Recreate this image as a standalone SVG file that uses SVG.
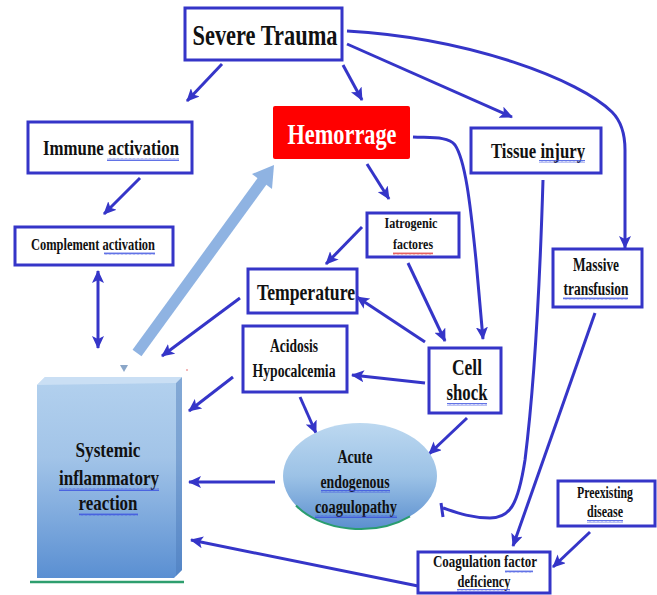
<svg xmlns="http://www.w3.org/2000/svg" width="657" height="595" viewBox="0 0 657 595">
<defs>
<style>
.box{fill:#fff;stroke:#3535c8;stroke-width:3}
.t{font-family:"Liberation Serif","Times New Roman",serif;font-weight:bold;fill:#111;text-anchor:middle}
.c{fill:none;stroke:#3535c8;stroke-width:3}
.a{marker-end:url(#ah)}
.sqb{fill:url(#wb)}
.sqr{fill:url(#wr)}
</style>
<marker id="ah" markerUnits="userSpaceOnUse" markerWidth="14" markerHeight="12" refX="12" refY="6" orient="auto-start-reverse">
<path d="M0,0 L13,6 L0,12 L3,6 z" fill="#3535c8"/>
</marker>
<pattern id="wb" width="4" height="3" patternUnits="userSpaceOnUse">
<path d="M0,2.5 L1,0.5 L2,2.5 L3,0.5 L4,2.5" fill="none" stroke="#3a4fe0" stroke-width="0.8"/>
</pattern>
<pattern id="wr" width="4" height="3" patternUnits="userSpaceOnUse">
<path d="M0,2.5 L1,0.5 L2,2.5 L3,0.5 L4,2.5" fill="none" stroke="#e03a3a" stroke-width="0.8"/>
</pattern>
<linearGradient id="gs" x1="0" y1="0" x2="0" y2="1">
<stop offset="0" stop-color="#b3d1ee"/>
<stop offset="0.4" stop-color="#a2c4e8"/>
<stop offset="1" stop-color="#5a8fd2"/>
</linearGradient>
<linearGradient id="ge" x1="0" y1="0" x2="0" y2="1">
<stop offset="0" stop-color="#bcd8f0"/>
<stop offset="0.5" stop-color="#9cc2e6"/>
<stop offset="1" stop-color="#5b8fcf"/>
</linearGradient>
</defs>
<rect width="657" height="595" fill="#fff"/>

<g id="connectors">
<line class="c a" x1="222" y1="64" x2="187" y2="101"/>
<line class="c a" x1="343" y1="65" x2="362" y2="100"/>
<line class="c a" x1="347" y1="44" x2="512" y2="117"/>
<path class="c a" d="M347,31 C470,38 580,80 612,112 C622,122 625,135 625,150 L625,248"/>
<path class="c a" d="M413,137 C430,138 448,136 455,145 C465,160 470,200 476,260 L483,339"/>
<path class="c" d="M543,180 C540,280 535,380 525,460 C518,505 510,518 490,518 C470,518 455,512 443,508"/>
<line class="c" x1="441" y1="503" x2="443" y2="517" stroke-width="2.5"/>
<line class="c a" x1="140" y1="178" x2="104" y2="214"/>
<line class="c a" x1="98" y1="271" x2="98" y2="348" style="marker-start:url(#ah)"/>
<line class="c a" x1="367" y1="164" x2="389" y2="199"/>
<line class="c a" x1="362" y1="227" x2="326" y2="264"/>
<line class="c a" x1="408" y1="263" x2="445" y2="341"/>
<line class="c a" x1="425" y1="342" x2="357" y2="297"/>
<line class="c a" x1="425" y1="383" x2="352" y2="375"/>
<line class="c a" x1="467" y1="418" x2="429" y2="454"/>
<line class="c a" x1="240" y1="298" x2="162" y2="356"/>
<line class="c a" x1="233" y1="377" x2="189" y2="411"/>
<line class="c a" x1="300" y1="397" x2="316" y2="433"/>
<line class="c a" x1="275" y1="482" x2="189" y2="482"/>
<line class="c a" x1="595" y1="313" x2="513" y2="546"/>
<line class="c a" x1="590" y1="532" x2="553" y2="567"/>
<line class="c a" x1="418" y1="586" x2="191" y2="540"/>
<g id="big-arrow">
<line x1="137" y1="353" x2="263" y2="180" stroke="#8fb3e2" stroke-width="11"/>
<polygon points="274,165 272,189 252,174" fill="#8fb3e2"/>
</g>
<polygon points="120,365 128,365 124,372" fill="#8aa6c8"/>
<circle cx="187" cy="370" r="1" fill="#f0a0a0"/>
</g>

<g id="severe-trauma">
<rect class="box" x="185" y="8" width="157" height="52"/>
<text class="t" x="265" y="45" font-size="30" textLength="145" lengthAdjust="spacingAndGlyphs">Severe Trauma</text>
</g>

<g id="immune-activation">
<rect class="box" x="28" y="122" width="164" height="51"/>
<text class="t" x="111" y="155" font-size="21" textLength="136" lengthAdjust="spacingAndGlyphs">Immune activation</text>
<rect class="sqb" x="107" y="158" width="72" height="3"/>
</g>

<g id="hemorrage">
<rect x="273" y="106" width="137" height="53" fill="#ff0000" rx="2"/>
<text class="t" x="342" y="144" font-size="29" style="fill:#fff" textLength="109" lengthAdjust="spacingAndGlyphs">Hemorrage</text>
</g>

<g id="tissue-injury">
<rect class="box" x="471" y="128" width="130" height="45"/>
<text class="t" x="538" y="158" font-size="21" textLength="94" lengthAdjust="spacingAndGlyphs">Tissue injury</text>
<rect class="sqb" x="539" y="160" width="46" height="3"/>
</g>

<g id="complement-activation">
<rect class="box" x="15" y="227" width="158" height="38"/>
<text class="t" x="93" y="250" font-size="17" textLength="124" lengthAdjust="spacingAndGlyphs">Complement  activation</text>
<rect class="sqb" x="104" y="252" width="51" height="3"/>
</g>

<g id="iatrogenic-factores">
<rect class="box" x="367" y="213" width="92" height="44"/>
<text class="t" x="411" y="228" font-size="15" textLength="53" lengthAdjust="spacingAndGlyphs">Iatrogenic</text>
<text class="t" x="413" y="249" font-size="15" textLength="40" lengthAdjust="spacingAndGlyphs">factores</text>
<rect class="sqr" x="393" y="252" width="40" height="3"/>
</g>

<g id="temperature">
<rect class="box" x="248" y="269" width="109" height="44"/>
<text class="t" x="306" y="300" font-size="24" textLength="98" lengthAdjust="spacingAndGlyphs">Temperature</text>
</g>

<g id="acidosis-hypocalcemia">
<rect class="box" x="243" y="326" width="104" height="66"/>
<text class="t" x="294" y="352" font-size="18" textLength="48" lengthAdjust="spacingAndGlyphs">Acidosis</text>
<text class="t" x="294" y="377" font-size="18" textLength="83" lengthAdjust="spacingAndGlyphs">Hypocalcemia</text>
</g>

<g id="cell-shock">
<rect class="box" x="429" y="348" width="72" height="65"/>
<text class="t" x="467" y="375" font-size="24" textLength="30" lengthAdjust="spacingAndGlyphs">Cell</text>
<text class="t" x="467" y="400" font-size="24" textLength="41" lengthAdjust="spacingAndGlyphs">shock</text>
<rect class="sqb" x="447" y="403" width="40" height="3"/>
</g>

<g id="massive-transfusion">
<rect class="box" x="553" y="249" width="89" height="58"/>
<text class="t" x="596" y="271" font-size="18" textLength="46" lengthAdjust="spacingAndGlyphs">Massive</text>
<text class="t" x="596" y="295" font-size="18" textLength="65" lengthAdjust="spacingAndGlyphs">transfusion</text>
<rect class="sqb" x="563" y="297" width="65" height="3"/>
</g>

<g id="systemic-inflammatory-reaction">
<path d="M37,385 L45,377 L182,377 L182,570 L174,578 L37,578 Z" fill="url(#gs)"/>
<path d="M176,383 L182,377 L182,570 L176,576 Z" fill="#4a78b8" opacity="0.45"/>
<path d="M37,385 L45,377 L182,377 L176,383 Z" fill="#d4e6f7" opacity="0.7"/>
<line x1="30" y1="582" x2="184" y2="582" stroke="#2e9e6e" stroke-width="2.5"/>
<text class="t" x="108" y="457" font-size="22" textLength="65" lengthAdjust="spacingAndGlyphs">Systemic</text>
<text class="t" x="109" y="485" font-size="22" textLength="100" lengthAdjust="spacingAndGlyphs">inflammatory</text>
<text class="t" x="108" y="510" font-size="22" textLength="59" lengthAdjust="spacingAndGlyphs">reaction</text>
<rect class="sqb" x="59" y="488" width="100" height="3"/>
<rect class="sqb" x="79" y="513" width="59" height="3"/>
</g>

<g id="acute-endogenous-coagulopathy">
<ellipse cx="360" cy="476" rx="77" ry="53" fill="url(#ge)"/>
<path d="M296,505.5 A77,53 0 0 0 410,516.3" fill="none" stroke="#2a9d6f" stroke-width="2"/>
<text class="t" x="355" y="463" font-size="18" textLength="35" lengthAdjust="spacingAndGlyphs">Acute</text>
<text class="t" x="355" y="488" font-size="18" textLength="69" lengthAdjust="spacingAndGlyphs">endogenous</text>
<text class="t" x="356" y="513" font-size="18" textLength="82" lengthAdjust="spacingAndGlyphs">coagulopathy</text>
<rect class="sqb" x="321" y="490" width="69" height="3"/>
<rect class="sqb" x="315" y="515" width="82" height="3"/>
</g>

<g id="preexisting-disease">
<rect class="box" x="558" y="481" width="97" height="45"/>
<text class="t" x="605" y="498" font-size="16" textLength="56" lengthAdjust="spacingAndGlyphs">Preexisting</text>
<text class="t" x="605" y="517" font-size="16" textLength="36" lengthAdjust="spacingAndGlyphs">disease</text>
<rect class="sqb" x="587" y="520" width="36" height="3"/>
</g>

<g id="coagulation-factor-deficiency">
<rect class="box" x="418" y="552" width="132" height="41"/>
<text class="t" x="485" y="567" font-size="16" textLength="104" lengthAdjust="spacingAndGlyphs">Coagulation  factor</text>
<text class="t" x="484" y="587" font-size="16" textLength="53" lengthAdjust="spacingAndGlyphs">deficiency</text>
<rect class="sqb" x="505" y="570" width="28" height="3"/>
<rect class="sqb" x="457" y="589" width="53" height="3"/>
</g>
</svg>
